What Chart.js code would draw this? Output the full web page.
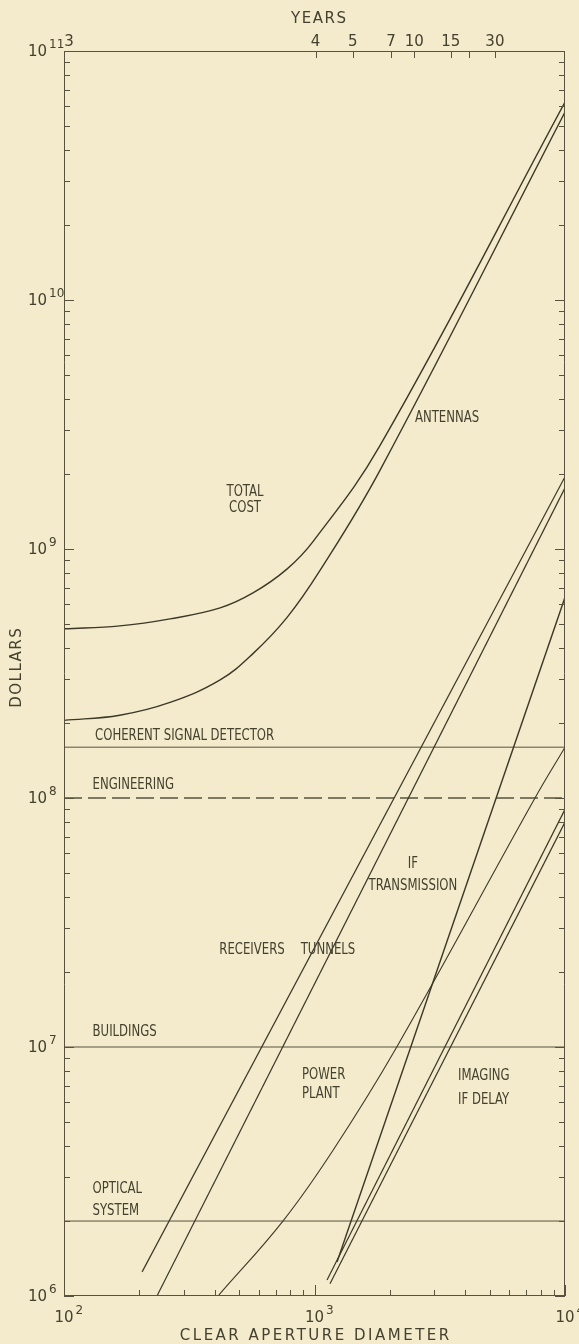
<!DOCTYPE html>
<html>
<head>
<meta charset="utf-8">
<title>Cost against clear aperture diameter</title>
<script src="https://cdn.jsdelivr.net/npm/chart.js@4.4.1/dist/chart.umd.min.js"></script>
<style>
  html, body { margin: 0; padding: 0; background: #f3ebcc; }
  #chart { display: block; }
</style>
</head>
<body>
<canvas id="chart" width="579" height="1344"></canvas>
<script>
// ---- axis ranges ----
const diameterRange = [100, 10000];   // clear aperture diameter
const dollarRange = [1e6, 1e11];      // dollars

// ---- top scale: construction time in years, at the matching diameter ----
const yearLabels = ['3', '4', '5', '7', '10', '15', '', '30'];
const yearDiameters = [100, 1010, 1420, 2020, 2500, 3500, 4150, 5250];

// ---- cost curves (diameter, dollars) ----
const totalCostDiameter = [100, 167, 265, 420, 568, 776, 986, 1825, 10000];
const totalCostDollars  = [4.78e8, 4.91e8, 5.24e8, 5.8e8, 6.66e8, 8.3e8, 1.07e9, 2.6e9, 6.24e10];

const antennaDiameter = [100, 167, 265, 420, 568, 776, 1052, 1825, 10000];
const antennaDollars  = [2.05e8, 2.15e8, 2.42e8, 2.98e8, 3.8e8, 5.3e8, 8.2e8, 2.07e9, 5.69e10];

const receiverDiameter = [205, 10000];
const receiverDollars  = [1.25e6, 1.95e9];

const tunnelDiameter = [235, 10000];
const tunnelDollars  = [1.0e6, 1.76e9];

const powerPlantDiameter = [412, 748, 1186, 2130, 7590, 10000];
const powerPlantDollars  = [1.0e6, 2.0e6, 3.85e6, 1.0e7, 1.0e8, 1.6e8];

const ifTransmissionDiameter = [1230, 10000];
const ifTransmissionDollars  = [1.37e6, 6.4e8];

const imagingDiameter = [1122, 10000];
const imagingDollars  = [1.16e6, 9.0e7];

const ifDelayDiameter = [1153, 10000];
const ifDelayDollars  = [1.12e6, 8.0e7];

// ---- fixed costs, independent of diameter ----
const flatCostDiameter = [100, 10000];
const coherentDetectorDollars = 1.6e8;
const engineeringDollars = 1.0e8;
const buildingsDollars = 1.0e7;
const opticalSystemDollars = 2.0e6;

// ---- curve captions, anchored in data units (diameter, dollars) ----
const captions = [
  { text: 'TOTAL', at: [528, 1.69e9], align: 'center' },
  { text: 'COST', at: [528, 1.46e9], align: 'center' },
  { text: 'ANTENNAS', at: [2518, 3.36e9], align: 'left' },
  { text: 'COHERENT SIGNAL DETECTOR', at: [133, 1.77e8], align: 'left' },
  { text: 'ENGINEERING', at: [130, 1.13e8], align: 'left' },
  { text: 'IF', at: [2472, 5.43e7], align: 'center' },
  { text: 'TRANSMISSION', at: [2472, 4.44e7], align: 'center' },
  { text: 'RECEIVERS', at: [563, 2.45e7], align: 'center' },
  { text: 'TUNNELS', at: [1132, 2.45e7], align: 'center' },
  { text: 'BUILDINGS', at: [130, 1.15e7], align: 'left' },
  { text: 'POWER', at: [891, 7.72e6], align: 'left' },
  { text: 'PLANT', at: [891, 6.5e6], align: 'left' },
  { text: 'IMAGING', at: [3740, 7.65e6], align: 'left' },
  { text: 'IF DELAY', at: [3740, 6.15e6], align: 'left' },
  { text: 'OPTICAL', at: [130, 2.69e6], align: 'left' },
  { text: 'SYSTEM', at: [130, 2.19e6], align: 'left' }
];

const INK = '#3b3828';
const THIN_INK = '#57533f';
const TEXT_INK = '#45412f';
const PAPER = '#f3ebcc';

const pts = (xs, ys) => xs.map((x, i) => ({ x, y: ys[i] }));
const flat = v => flatCostDiameter.map(x => ({ x, y: v }));

function curve(data, width, tension) {
  return {
    data, borderColor: INK, borderWidth: width || 1.4,
    pointRadius: 0, fill: false, tension: tension || 0
  };
}
function level(v, dash) {
  return {
    data: flat(v), borderColor: THIN_INK, borderWidth: dash ? 1.3 : 1,
    borderDash: dash || [], pointRadius: 0, fill: false
  };
}

// draws "10" with a raised exponent
function drawPower(ctx, exp, x, y, mode) {
  ctx.save();
  ctx.fillStyle = TEXT_INK;
  ctx.textBaseline = 'middle';
  ctx.font = '15px "DejaVu Sans"';
  const baseW = ctx.measureText('10').width;
  const left = mode === 'leftEdge' ? x : x - baseW / 2;
  ctx.textAlign = 'left';
  ctx.fillText('10', left, y);
  ctx.font = '12px "DejaVu Sans"';
  ctx.fillText(String(exp), left + baseW + 2, y - 7);
  ctx.restore();
}

function spacedText(ctx, text, x, y, spacing) {
  if ('letterSpacing' in ctx) {
    ctx.letterSpacing = spacing + 'px';
    ctx.fillText(text, x + spacing / 2, y);
    ctx.letterSpacing = '0px';
  } else {
    ctx.fillText(text, x, y);
  }
}

const paperPlugin = {
  id: 'paper',
  beforeDraw(chart) {
    const ctx = chart.ctx;
    ctx.save();
    ctx.fillStyle = PAPER;
    ctx.fillRect(0, 0, chart.width, chart.height);
    ctx.restore();
  }
};

const framePlugin = {
  id: 'frame',
  afterDatasetsDraw(chart) {
    const ctx = chart.ctx;
    const xs = chart.scales.x, ys = chart.scales.y;
    const L = xs.left, R = xs.right, T = ys.top, B = ys.bottom;
    ctx.save();
    ctx.strokeStyle = THIN_INK;
    ctx.lineWidth = 1;
    // frame
    ctx.beginPath();
    ctx.moveTo(L + 0.5, T); ctx.lineTo(L + 0.5, B);
    ctx.moveTo(R - 0.5, T); ctx.lineTo(R - 0.5, B);
    ctx.moveTo(L, B - 0.5); ctx.lineTo(R, B - 0.5);
    ctx.moveTo(L, T + 0.5); ctx.lineTo(R, T + 0.5);
    ctx.stroke();

    // dollar ticks on both sides, pointing inwards
    ctx.beginPath();
    for (let e = 6; e <= 11; e++) {
      for (let k = 1; k <= 9; k++) {
        const v = k * Math.pow(10, e);
        if (v > dollarRange[1] * 1.0001) break;
        const py = Math.round(ys.getPixelForValue(v)) + 0.5;
        const len = k === 1 ? 10 : 6;
        ctx.moveTo(L, py); ctx.lineTo(L + len, py);
        ctx.moveTo(R, py); ctx.lineTo(R - len, py);
      }
    }
    // diameter ticks along the bottom, pointing up
    for (let e = 2; e <= 4; e++) {
      for (let k = 1; k <= 9; k++) {
        const v = k * Math.pow(10, e);
        if (v > diameterRange[1] * 1.0001) break;
        const px = Math.round(xs.getPixelForValue(v)) + 0.5;
        const len = k === 1 ? 11 : 6;
        ctx.moveTo(px, B); ctx.lineTo(px, B - len);
      }
    }
    // year ticks along the top, pointing down
    yearDiameters.forEach(d => {
      const px = Math.round(xs.getPixelForValue(d)) + 0.5;
      ctx.moveTo(px, T); ctx.lineTo(px, T + 7);
    });
    ctx.stroke();

    // dollar labels
    for (let e = 6; e <= 11; e++) {
      const py = ys.getPixelForValue(Math.pow(10, e));
      drawPower(ctx, e, 28, py + 1, 'leftEdge');
    }
    // diameter labels
    for (let e = 2; e <= 4; e++) {
      const px = xs.getPixelForValue(Math.pow(10, e));
      drawPower(ctx, e, px, B + 22, 'centre');
    }

    // year labels
    ctx.fillStyle = TEXT_INK;
    ctx.font = '15px "DejaVu Sans"';
    ctx.textBaseline = 'middle';
    ctx.textAlign = 'center';
    yearLabels.forEach((t, i) => {
      if (!t) return;
      let px = xs.getPixelForValue(yearDiameters[i]);
      if (i === 0) px += 5;
      ctx.fillText(t, px, T - 9);
    });
    spacedText(ctx, 'YEARS', (L + R) / 2 + 4, 19, 1.5);

    // axis titles
    ctx.font = '15px "DejaVu Sans"';
    spacedText(ctx, 'CLEAR APERTURE DIAMETER', (L + R) / 2, B + 40, 2.5);
    ctx.save();
    ctx.translate(17, 668);
    ctx.rotate(-Math.PI / 2);
    spacedText(ctx, 'DOLLARS', 0, 0, 1.5);
    ctx.restore();

    // curve captions
    ctx.font = '13px "Liberation Sans Narrow", "DejaVu Sans Condensed", sans-serif';
    captions.forEach(c => {
      const px = xs.getPixelForValue(c.at[0]);
      const py = ys.getPixelForValue(c.at[1]);
      ctx.save();
      ctx.translate(px, py);
      ctx.scale(1, 1.25);
      ctx.textAlign = c.align;
      ctx.textBaseline = 'middle';
      ctx.fillText(c.text, 0, 0);
      ctx.restore();
    });
    ctx.restore();
  }
};

new Chart(document.getElementById('chart'), {
  type: 'line',
  data: {
    datasets: [
      curve(pts(totalCostDiameter, totalCostDollars), 1.4, 0.4),
      curve(pts(antennaDiameter, antennaDollars), 1.4, 0.4),
      curve(pts(receiverDiameter, receiverDollars), 1.2),
      curve(pts(tunnelDiameter, tunnelDollars), 1.2),
      curve(pts(powerPlantDiameter, powerPlantDollars), 1.1, 0.4),
      curve(pts(ifTransmissionDiameter, ifTransmissionDollars), 1.4),
      curve(pts(imagingDiameter, imagingDollars), 1.2),
      curve(pts(ifDelayDiameter, ifDelayDollars), 1.2),
      level(coherentDetectorDollars),
      level(engineeringDollars, [18, 6]),
      level(buildingsDollars),
      level(opticalSystemDollars)
    ]
  },
  options: {
    responsive: false,
    animation: false,
    devicePixelRatio: 1,
    layout: { padding: { left: 64, right: 14, top: 51, bottom: 48 } },
    plugins: { legend: { display: false }, tooltip: { enabled: false } },
    scales: {
      x: { type: 'logarithmic', min: diameterRange[0], max: diameterRange[1], display: false },
      y: { type: 'logarithmic', min: dollarRange[0], max: dollarRange[1], display: false }
    }
  },
  plugins: [paperPlugin, framePlugin]
});
</script>
</body>
</html>
